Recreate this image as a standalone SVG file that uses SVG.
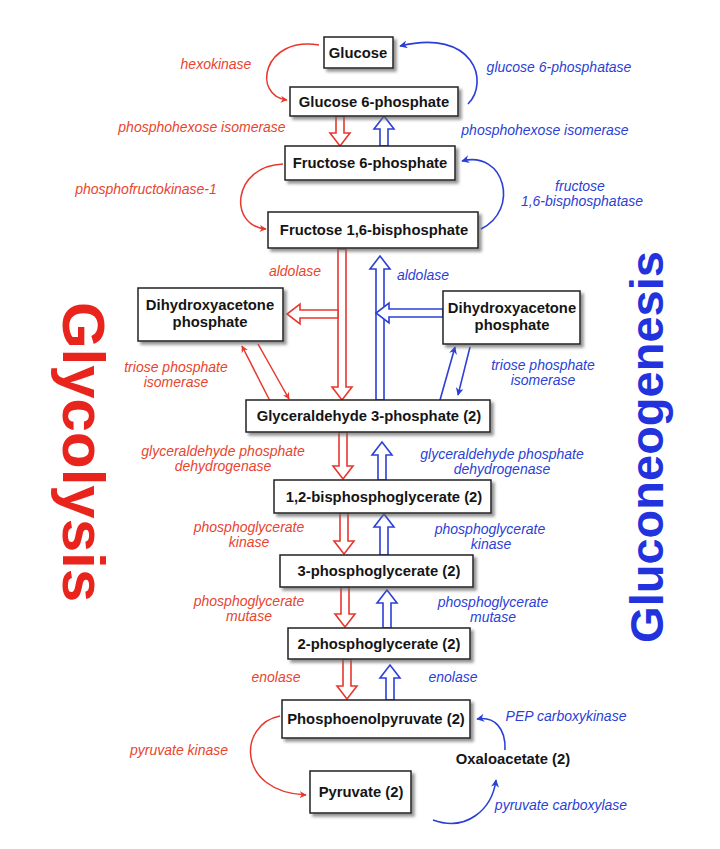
<svg xmlns="http://www.w3.org/2000/svg" width="720" height="849" viewBox="0 0 720 849">
<defs>
<filter id="sh" x="-10%" y="-20%" width="130%" height="150%">
<feDropShadow dx="3" dy="3" stdDeviation="1.5" flood-color="#666" flood-opacity="0.7"/>
</filter>
<marker id="ar" viewBox="0 0 10 10" refX="9" refY="5" markerWidth="7" markerHeight="7" orient="auto" markerUnits="userSpaceOnUse">
<path d="M0,0 L10,5 L0,10 L3,5 z" fill="#e8372c"/>
</marker>
<marker id="ab" viewBox="0 0 10 10" refX="9" refY="5" markerWidth="8" markerHeight="8" orient="auto" markerUnits="userSpaceOnUse">
<path d="M0,0 L10,5 L0,10 L3,5 z" fill="#2b3fd6"/>
</marker>
</defs>
<style>
.box{fill:#fff;stroke:#222;stroke-width:1.5;filter:url(#sh)}
.nl{font-family:"Liberation Sans",Arial,Helvetica,sans-serif;font-weight:bold;font-size:14.8px;fill:#151515;text-anchor:middle}
.er{font-family:"Liberation Sans",Arial,Helvetica,sans-serif;font-style:italic;font-size:14px;fill:#e8452f;text-anchor:middle}
.eb{font-family:"Liberation Sans",Arial,Helvetica,sans-serif;font-style:italic;font-size:14px;fill:#2b3fd6;text-anchor:middle}
.br{fill:#fff;stroke:#e8372c;stroke-width:1.6}
.bb{fill:#fff;stroke:#2b3fd6;stroke-width:1.6}
.cr{fill:none;stroke:#e8372c;stroke-width:1.5;marker-end:url(#ar)}
.cb{fill:none;stroke:#2b3fd6;stroke-width:1.6;marker-end:url(#ab)}
.title{font-family:"Liberation Sans",Arial,Helvetica,sans-serif;font-weight:bold;text-anchor:middle}
</style>
<rect width="720" height="849" fill="#fff"/>

<text class="title" font-size="60" fill="#e8241c" transform="translate(63,452) rotate(90)">Glycolysis</text>
<text class="title" font-size="47" fill="#2233dd" transform="translate(663,447) rotate(-90)">Gluconeogenesis</text>

<g id="connectors">
<path class="cr" d="M319,45 C262,36 252,96 287,100"/>
<path class="cb" d="M468,104 C490,82 474,28 400,46"/>
<path class="cr" d="M283,164 C232,166 228,226 266,229"/>
<path class="cb" d="M481,229 C520,210 505,150 462,161"/>
<path class="cr" d="M270,401 L242,346"/>
<path class="cr" d="M258,344 L289,399"/>
<path class="cb" d="M440,400 L455,347"/>
<path class="cb" d="M470,347 L458,395"/>
<path class="cr" d="M280,716 C238,724 236,792 306,795"/>
<path class="cb" d="M505,750 C506,728 494,716 477,719"/>
<path class="cb" d="M433,820 C466,832 492,810 496,780"/>

<polygon class="br" points="336,116 344,116 344,133 350,133 340,146 330,133 336,133"/>
<polygon class="bb" points="380,146 388,146 388,129 394,129 384,116 374,129 380,129"/>

<polygon class="br" points="338,249 346,249 346,387 352,387 342,400 332,387 338,387"/>
<polygon class="bb" points="376,400 384,400 384,269 390,269 380,256 370,269 376,269"/>
<polygon class="br" points="338,310 300,310 300,304 287,314 300,324 300,318 338,318"/>
<polygon class="bb" points="443,309 389,309 389,303 376,313 389,323 389,317 443,317"/>

<polygon class="br" points="339,432 347,432 347,466 353,466 343,479 333,466 339,466"/>
<polygon class="bb" points="378,480 386,480 386,455 392,455 382,442 372,455 378,455"/>

<polygon class="br" points="340,513 348,513 348,541 354,541 344,554 334,541 340,541"/>
<polygon class="bb" points="380,555 388,555 388,527 394,527 384,514 374,527 380,527"/>

<polygon class="br" points="341,587 349,587 349,614 355,614 345,627 335,614 341,614"/>
<polygon class="bb" points="383,628 391,628 391,603 397,603 387,590 377,603 383,603"/>

<polygon class="br" points="343,659 351,659 351,686 357,686 347,699 337,686 343,686"/>
<polygon class="bb" points="386,700 394,700 394,678 400,678 390,665 380,678 386,678"/>
</g>

<g id="glucose"><rect class="box" x="324" y="37" width="69" height="31"/><text class="nl" x="358" y="58">Glucose</text></g>
<g id="g6p"><rect class="box" x="290" y="87" width="168" height="29"/><text class="nl" x="374" y="107">Glucose 6-phosphate</text></g>
<g id="f6p"><rect class="box" x="285" y="146" width="170" height="34"/><text class="nl" x="370" y="168">Fructose 6-phosphate</text></g>
<g id="f16bp"><rect class="box" x="268" y="212" width="210" height="36"/><text class="nl" x="374" y="235">Fructose 1,6-bisphosphate</text></g>
<g id="dhap-l"><rect class="box" x="138" y="288" width="145" height="53"/><text class="nl" x="210" y="310">Dihydroxyacetone</text><text class="nl" x="210" y="327">phosphate</text></g>
<g id="dhap-r"><rect class="box" x="443" y="291" width="137" height="53"/><text class="nl" x="512" y="313">Dihydroxyacetone</text><text class="nl" x="512" y="330">phosphate</text></g>
<g id="g3p"><rect class="box" x="246" y="400" width="244" height="32"/><text class="nl" x="369" y="421">Glyceraldehyde 3-phosphate (2)</text></g>
<g id="bpg"><rect class="box" x="274" y="480" width="217" height="33"/><text class="nl" x="384" y="502">1,2-bisphosphoglycerate (2)</text></g>
<g id="pg3"><rect class="box" x="280" y="555" width="193" height="32"/><text class="nl" x="379" y="576">3-phosphoglycerate (2)</text></g>
<g id="pg2"><rect class="box" x="288" y="628" width="182" height="31"/><text class="nl" x="379" y="649">2-phosphoglycerate (2)</text></g>
<g id="pep"><rect class="box" x="282" y="700" width="188" height="38"/><text class="nl" x="376" y="724">Phosphoenolpyruvate (2)</text></g>
<g id="pyr"><rect class="box" x="310" y="771" width="101" height="42"/><text class="nl" x="361" y="797">Pyruvate (2)</text></g>
<g id="oaa"><text class="nl" x="513" y="764">Oxaloacetate (2)</text></g>

<g id="labels">
<text class="er" x="216" y="69">hexokinase</text>
<text class="er" x="202" y="132">phosphohexose isomerase</text>
<text class="er" x="146" y="194">phosphofructokinase-1</text>
<text class="er" x="295" y="276">aldolase</text>
<text class="er" x="176" y="372">triose phosphate</text>
<text class="er" x="176" y="387">isomerase</text>
<text class="er" x="223" y="456">glyceraldehyde phosphate</text>
<text class="er" x="223" y="471">dehydrogenase</text>
<text class="er" x="249" y="532">phosphoglycerate</text>
<text class="er" x="249" y="547">kinase</text>
<text class="er" x="249" y="606">phosphoglycerate</text>
<text class="er" x="249" y="621">mutase</text>
<text class="er" x="276" y="682">enolase</text>
<text class="er" x="179" y="755">pyruvate kinase</text>
<text class="eb" x="559" y="72">glucose 6-phosphatase</text>
<text class="eb" x="545" y="135">phosphohexose isomerase</text>
<text class="eb" x="580" y="191">fructose</text>
<text class="eb" x="582" y="206">1,6-bisphosphatase</text>
<text class="eb" x="423" y="280">aldolase</text>
<text class="eb" x="543" y="370">triose phosphate</text>
<text class="eb" x="543" y="385">isomerase</text>
<text class="eb" x="502" y="459">glyceraldehyde phosphate</text>
<text class="eb" x="502" y="474">dehydrogenase</text>
<text class="eb" x="490" y="534">phosphoglycerate</text>
<text class="eb" x="491" y="549">kinase</text>
<text class="eb" x="493" y="607">phosphoglycerate</text>
<text class="eb" x="493" y="622">mutase</text>
<text class="eb" x="453" y="682">enolase</text>
<text class="eb" x="566" y="721">PEP carboxykinase</text>
<text class="eb" x="561" y="810">pyruvate carboxylase</text>
</g>
</svg>
